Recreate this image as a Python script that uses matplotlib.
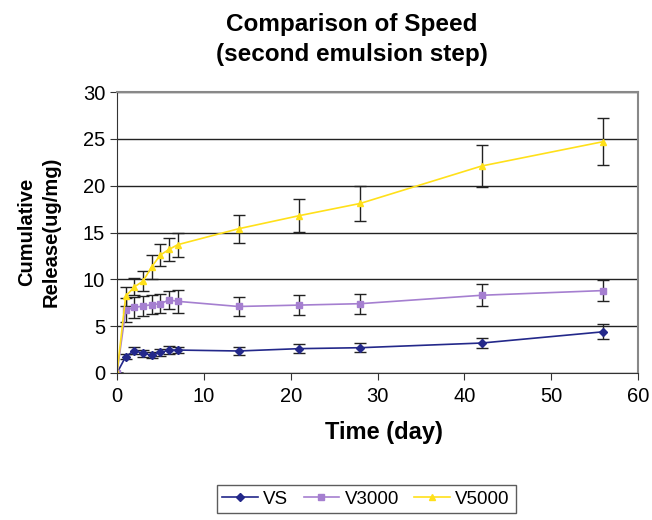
import matplotlib
matplotlib.use("Agg")
import matplotlib.pyplot as plt
from matplotlib.lines import Line2D

days = [0, 1, 2, 3, 4, 5, 6, 7, 14, 21, 28, 42, 56]
vs = [0, 1.75, 2.4, 2.1, 1.9, 2.2, 2.45, 2.45, 2.35, 2.6, 2.7, 3.2, 4.4]
vs_err = [0, 0.3, 0.4, 0.35, 0.35, 0.35, 0.4, 0.35, 0.45, 0.5, 0.5, 0.5, 0.8]
v3000 = [0, 6.7, 7.0, 7.15, 7.3, 7.4, 7.8, 7.65, 7.1, 7.25, 7.4, 8.3, 8.8]
v3000_err = [0, 1.3, 1.1, 1.05, 1.05, 1.0, 1.0, 1.2, 1.0, 1.1, 1.05, 1.2, 1.15]
v5000 = [0, 8.2, 9.2, 9.8, 11.35, 12.6, 13.2, 13.7, 15.4, 16.8, 18.1, 22.1, 24.7]
v5000_err = [0, 1.0, 0.9, 1.05, 1.3, 1.15, 1.2, 1.3, 1.5, 1.75, 1.85, 2.2, 2.5]

series_names = ["VS", "V3000", "V5000"]
colors = ["#23288a", "#a57fd0", "#ffe01a"]
markers = ["D", "s", "^"]
msizes = [4, 4, 5]

plt.rcParams['font.family'] = ['Liberation Sans', 'DejaVu Sans']

fig = plt.figure(figsize=(6.52, 5.2), dpi=100)
ax = fig.add_axes([117/652, 1-373/520, (638-117)/652, (373-92)/520])

handles = []
for vals, errs, name, c, m, ms in zip([vs, v3000, v5000], [vs_err, v3000_err, v5000_err],
                                       series_names, colors, markers, msizes):
    ax.errorbar(days, vals, yerr=errs, color=c, marker=m, markersize=ms, lw=1.2,
                ecolor="#222222", elinewidth=1, capsize=4, capthick=1)
    handles.append(Line2D([], [], color=c, marker=m, markersize=ms, lw=1.2, label=name))

ax.set_xlim(0, 60)
ax.set_ylim(0, 30)
ax.set_xticks(range(0, 61, 10))
ax.set_yticks(range(0, 31, 5))
ax.tick_params(axis='both', labelsize=14.5, direction='out', length=5, color='#333333')
ax.tick_params(axis='x', pad=5)
ax.yaxis.grid(True, color='#222222', lw=1)
ax.set_axisbelow(True)
for s in ['top', 'right']:
    ax.spines[s].set_color('#888888')
    ax.spines[s].set_linewidth(1.5)
for s in ['left', 'bottom']:
    ax.spines[s].set_color('#333333')

fig.text(352/652, 1-24/520, "Comparison of Speed", ha='center', va='center',
         fontsize=17.5, fontweight='bold')
fig.text(352/652, 1-54/520, "(second emulsion step)", ha='center', va='center',
         fontsize=17.5, fontweight='bold')
fig.text(39/652, 1-232/520, "Cumulative\nRelease(ug/mg)", ha='center', va='center',
         rotation=90, fontsize=14.5, fontweight='bold', linespacing=1.35)
fig.text(384/652, 1-432/520, "Time (day)", ha='center', va='center',
         fontsize=17, fontweight='bold')

leg = fig.legend(handles=handles, loc='center', bbox_to_anchor=(366/652, 1-499/520), ncol=3,
                 fontsize=13.5, frameon=True, fancybox=False, edgecolor='#333333',
                 handlelength=1.9, columnspacing=0.8, handletextpad=0.3, borderpad=0.3)
leg.get_frame().set_linewidth(1)

fig.savefig("out.png", dpi=100)
